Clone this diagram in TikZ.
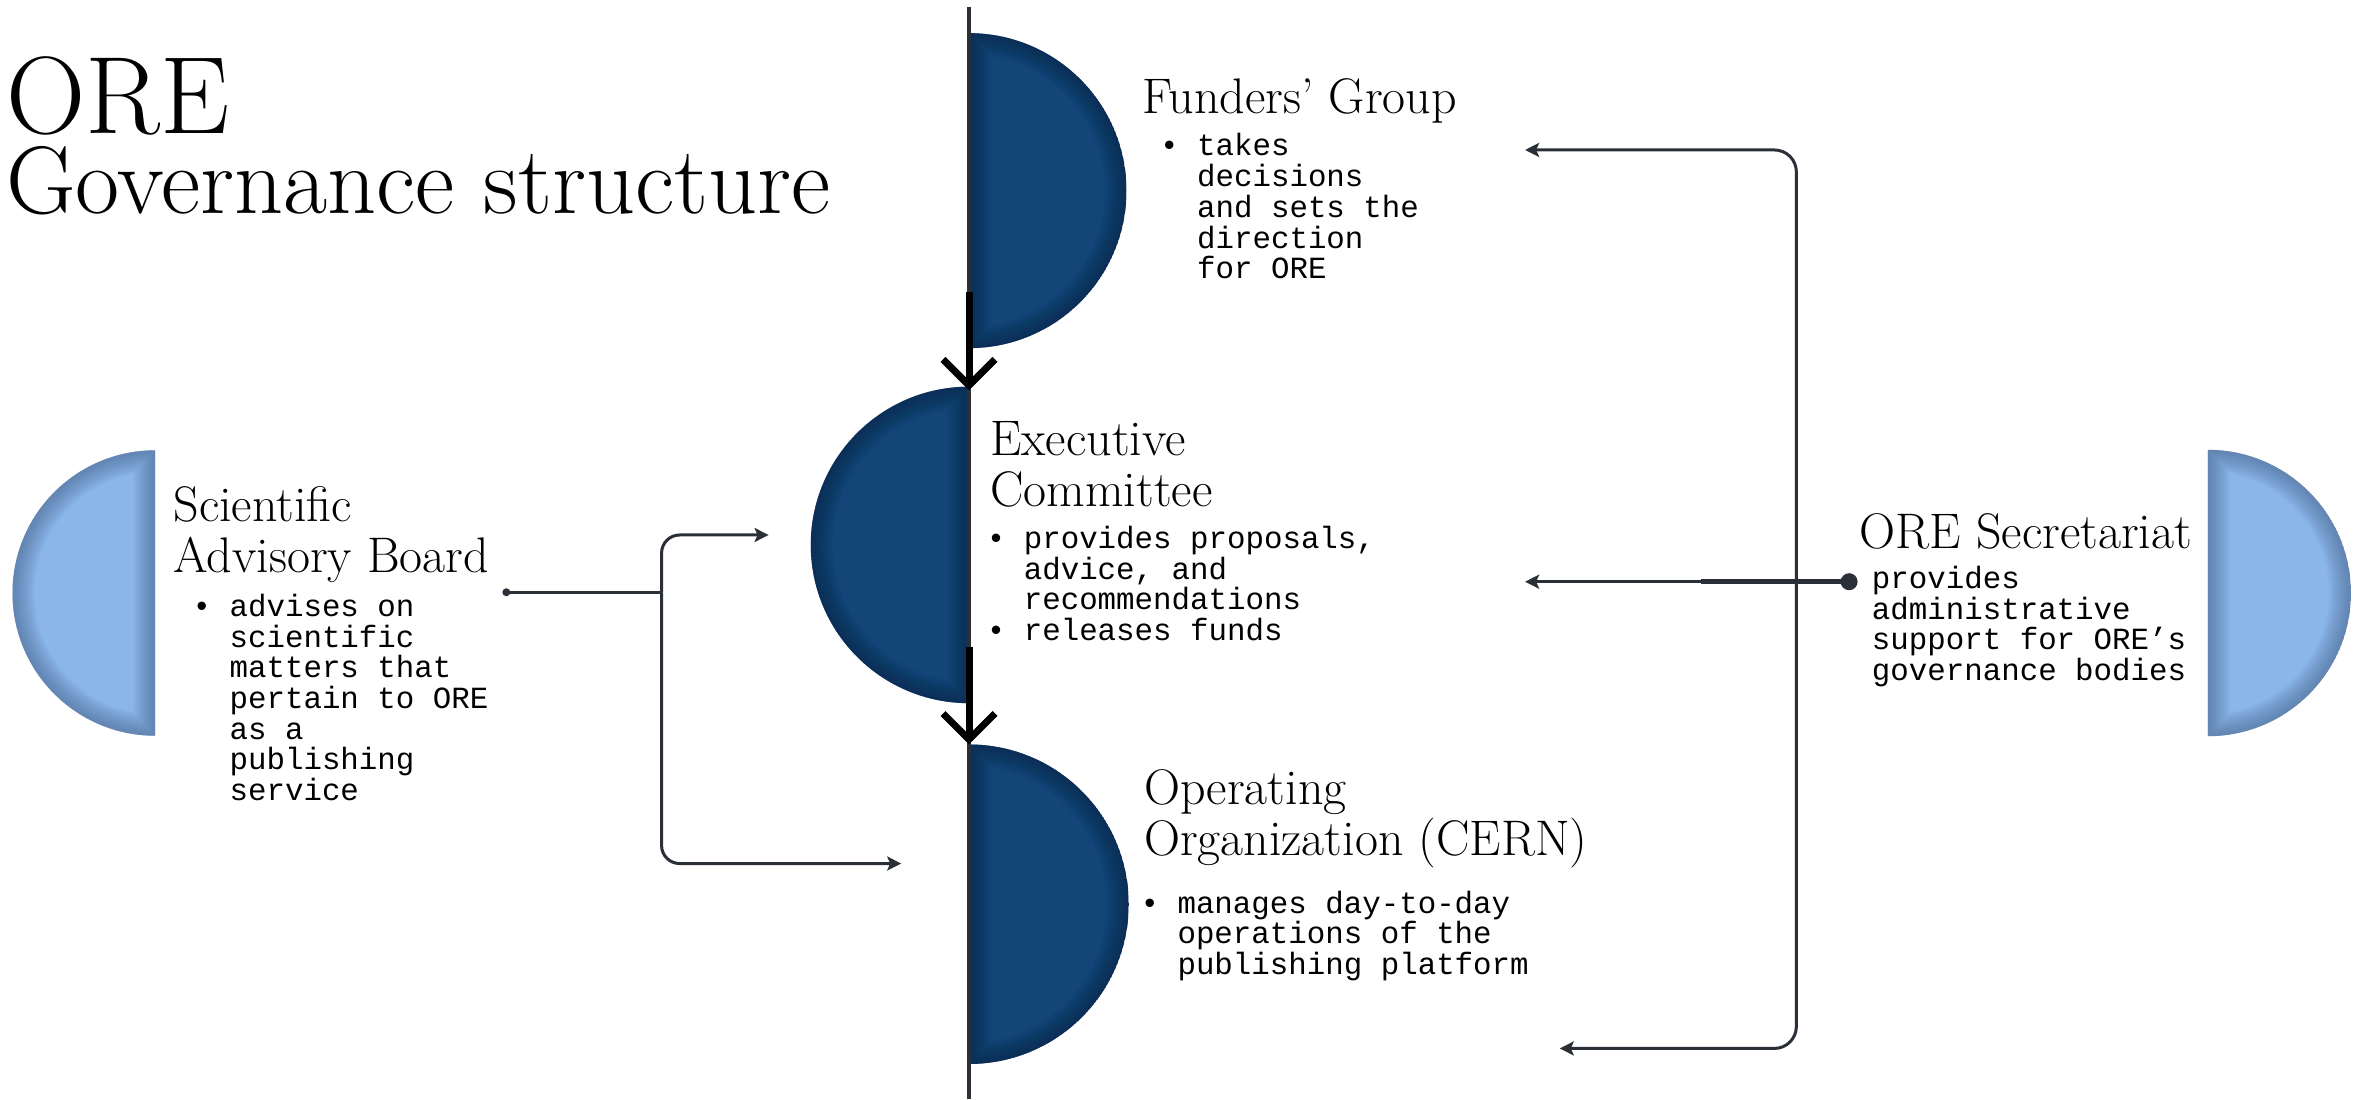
\documentclass[tikz,border=0pt]{standalone}
\usepackage{fontspec}
\newfontfamily\monof{Liberation Mono}
\usetikzlibrary{arrows.meta}
\definecolor{navy}{HTML}{134579}
\definecolor{navyrim}{HTML}{0B2746}
\definecolor{sky}{HTML}{8AB6EA}
\definecolor{skyrim}{HTML}{4E6C92}
\definecolor{conn}{HTML}{2A2F38}
\newcommand\ind{\hspace*{1.2em}}
\newcommand\halfdisc[6]{%
  \begin{scope}
    \clip (#1,-#2+#3) arc[start angle=90,end angle=#4,radius=#3] -- cycle;
    \fill[#5] (#1,-#2+#3) arc[start angle=90,end angle=#4,radius=#3] -- cycle;
    \foreach \w in {2,4,...,44}{
      \draw[#6, line width=\w pt, opacity=0.035] (#1,-#2+#3) arc[start angle=90,end angle=#4,radius=#3] -- cycle;}
  \end{scope}}
\begin{document}
\begin{tikzpicture}[x=1.507pt,y=1.507pt,
  head/.style={anchor=base west, inner sep=0pt, align=left, font=\fontsize{50}{51}\selectfont},
  body/.style={anchor=base west, inner sep=0pt, align=left, font=\monof\fontsize{30.8}{30.7}\selectfont},
  link/.style={draw=conn, line width=3pt, -{Stealth[length=14pt,width=14pt,inset=3pt]}},
  plainlink/.style={draw=conn, line width=3pt},
  flow/.style={draw=black, line width=7pt, -{Straight Barb[length=26pt,width=52pt]}},
  dotnode/.style={circle, fill=conn, inner sep=0pt}]
\useasboundingbox (0,0) rectangle (1568,-729.3);

% half discs
\halfdisc{643}{126.5}{104.5}{-90}{navy}{navyrim}
\halfdisc{643}{361.6}{105}{270}{navy}{navyrim}
\halfdisc{643}{600}{106}{-90}{navy}{navyrim}
\halfdisc{103}{393.5}{94.7}{270}{sky}{skyrim}
\halfdisc{1465}{393.5}{95}{-90}{sky}{skyrim}

% central spine
\coordinate (spinetop) at (643,-4.5);
\coordinate (spinebot) at (643,-729.3);
\draw[draw=conn, line width=4pt] (spinetop) -- (spinebot);

% title
\node[anchor=base west, inner sep=0pt, font=\fontsize{110}{110}\selectfont] (title1) at (4,-88.5) {ORE};
\node[anchor=base west, inner sep=0pt, font=\fontsize{96}{96}\selectfont] (title2) at (4,-141.5) {Governance structure};

% Funders' Group (anchors are at the baseline of the last line)
\node[head] (fgh) at (758,-75) {Funders’ Group};
\node[body] (fgb) at (769.7,-185) {\textbullet\ takes\\ \ind decisions\\ \ind and sets the\\ \ind direction\\ \ind for ORE};

% Executive Committee
\node[head] (ech) at (657,-336) {Executive\\Committee};
\node[body] (ecb) at (654.7,-425.1) {\textbullet\ provides proposals,\\ \ind advice, and\\ \ind recommendations\\ \textbullet\ releases funds};

% Operating Organization
\node[head] (ooh) at (759,-568) {Operating\\Organization (CERN)};
\node[body] (oob) at (756.7,-646.7) {\textbullet\ manages day-to-day\\ \ind operations of the\\ \ind publishing platform};

% Scientific Advisory Board
\node[head] (sah) at (115,-380) {Scientific\\Advisory Board};
\node[body] (sab) at (127.7,-531.2) {\textbullet\ advises on\\ \ind scientific\\ \ind matters that\\ \ind pertain to ORE\\ \ind as a\\ \ind publishing\\ \ind service};

% ORE Secretariat
\node[head] (seh) at (1234,-364) {ORE Secretariat};
\node[body] (seb) at (1242,-451.6) {provides\\administrative\\support for ORE’s\\governance bodies};

% flow arrows
\coordinate (f1s) at (643,-194);
\coordinate (f1e) at (643,-259);
\coordinate (f2s) at (643,-429);
\coordinate (f2e) at (643,-494);
\draw[flow] (f1s) -- (f1e);
\draw[flow] (f2s) -- (f2e);

% Scientific Advisory Board connector
\node[dotnode, minimum size=8pt] (sadot) at (336,-393) {};
\coordinate (saj) at (439,-393);
\coordinate (sat) at (510,-355);
\coordinate (sabt) at (598,-573);
\draw[plainlink] (sadot.center) -- (saj);
\draw[link, rounded corners=18pt] (saj) |- (sat);
\draw[link, rounded corners=18pt] (saj) |- (sabt);

% Secretariat connector
\node[dotnode, minimum size=17pt] (sedot) at (1227,-386) {};
\coordinate (rj) at (1192,-386);
\coordinate (rt) at (1012,-99.5);
\coordinate (rb) at (1035,-695.7);
\coordinate (rm) at (1012,-386);
\coordinate (rthick) at (1129,-386);
\draw[link, rounded corners=22pt] (rj) |- (rt);
\draw[link, rounded corners=22pt] (rj) |- (rb);
\draw[link] (sedot.center) -- (rm);
\draw[plainlink, line width=5.5pt] (rthick) -- (sedot.center);
\end{tikzpicture}
\end{document}
